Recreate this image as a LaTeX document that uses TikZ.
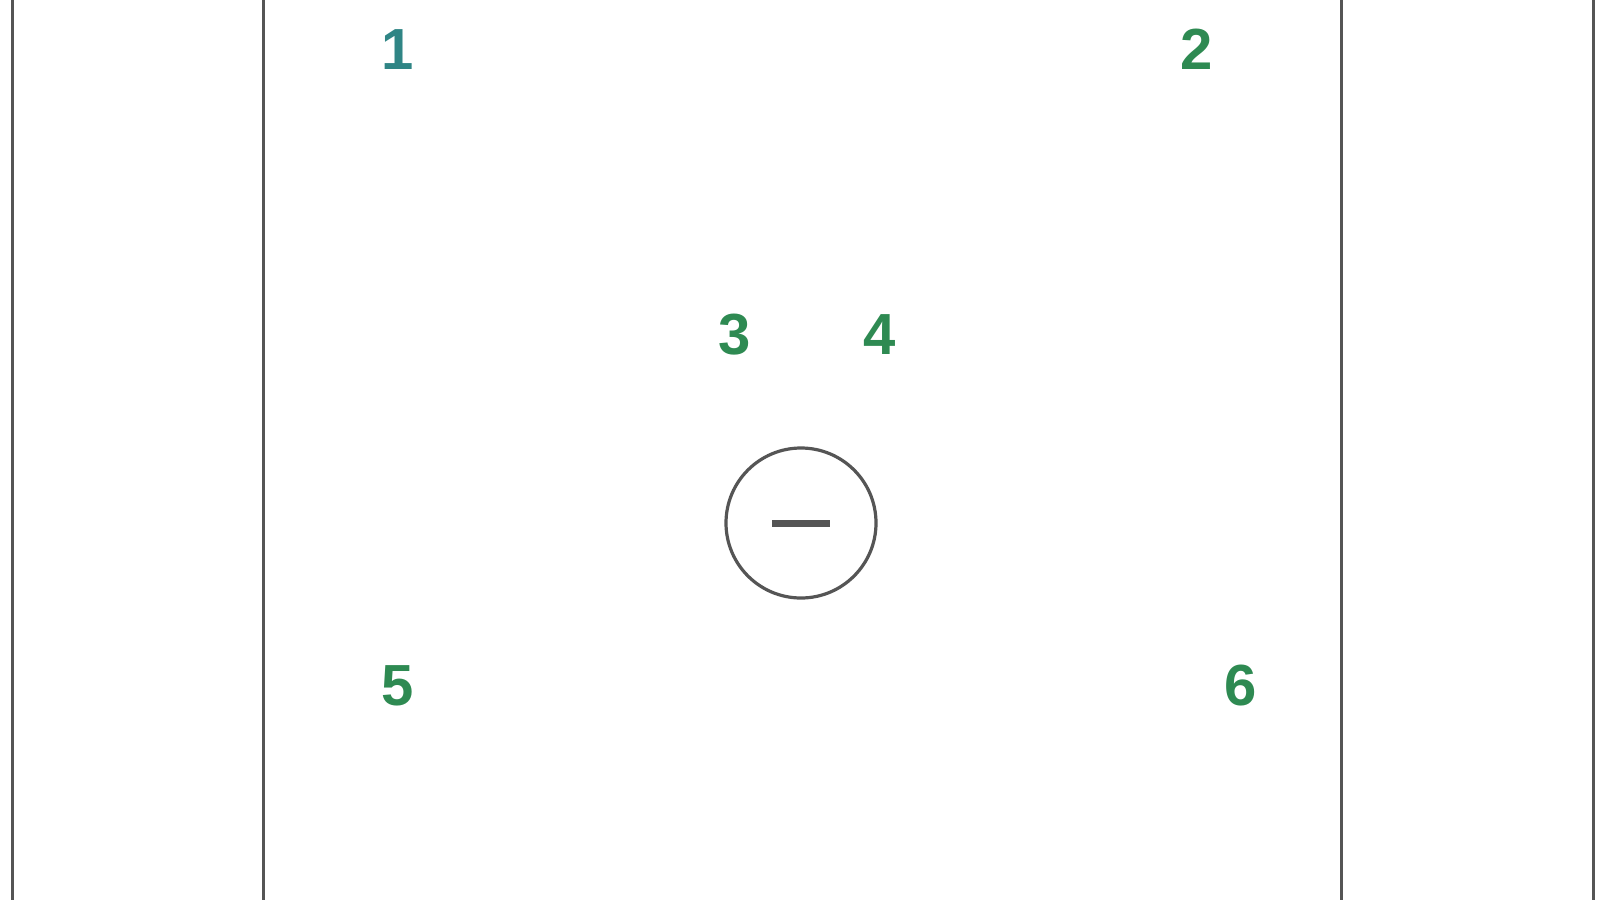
\documentclass[tikz,border=0pt]{standalone}
\usepackage{fontspec}
\setmainfont{Liberation Sans}
\usepackage{tikz}
\definecolor{fieldgray}{HTML}{555555}
\definecolor{tealnum}{HTML}{2F8585}
\definecolor{greennum}{HTML}{2E8A52}
\tikzstyle{field} = [draw=fieldgray, line width=1.5pt]
\tikzstyle{player} = [font=\fontsize{29}{29}\selectfont\bfseries, text=greennum, inner sep=0pt]
\tikzstyle{ball} = [circle, draw=fieldgray, line width=1.6pt, minimum size=75pt, inner sep=0pt]

\begin{document}
\begin{tikzpicture}[x=0.5pt, y=-0.5pt]
   \useasboundingbox (0,0) rectangle (1600,900);
   % field lines
   \draw[field] (12,0) -- (12,900);
   \draw[field] (263,0) -- (263,900);
   \draw[field] (1341,0) -- (1341,900);
   \draw[field] (1593,0) -- (1593,900);

   % players
   \node[player, text=tealnum] (p1) at (398,50)  {1};
   \node[player] (p2) at (1197,49)               {2};
   \node[player] (p3) at (735,335)               {3};
   \node[player] (p4) at (880,335)               {4};
   \node[player] (p5) at (398,686)               {5};
   \node[player] (p6) at (1241,686)              {6};

   % ball
   \node[ball] (bl) at (801,523) {};
   \draw[fieldgray, line width=3.5pt] ([xshift=-14.5pt]bl.center) -- ([xshift=14.5pt]bl.center);
\end{tikzpicture}
\end{document}
